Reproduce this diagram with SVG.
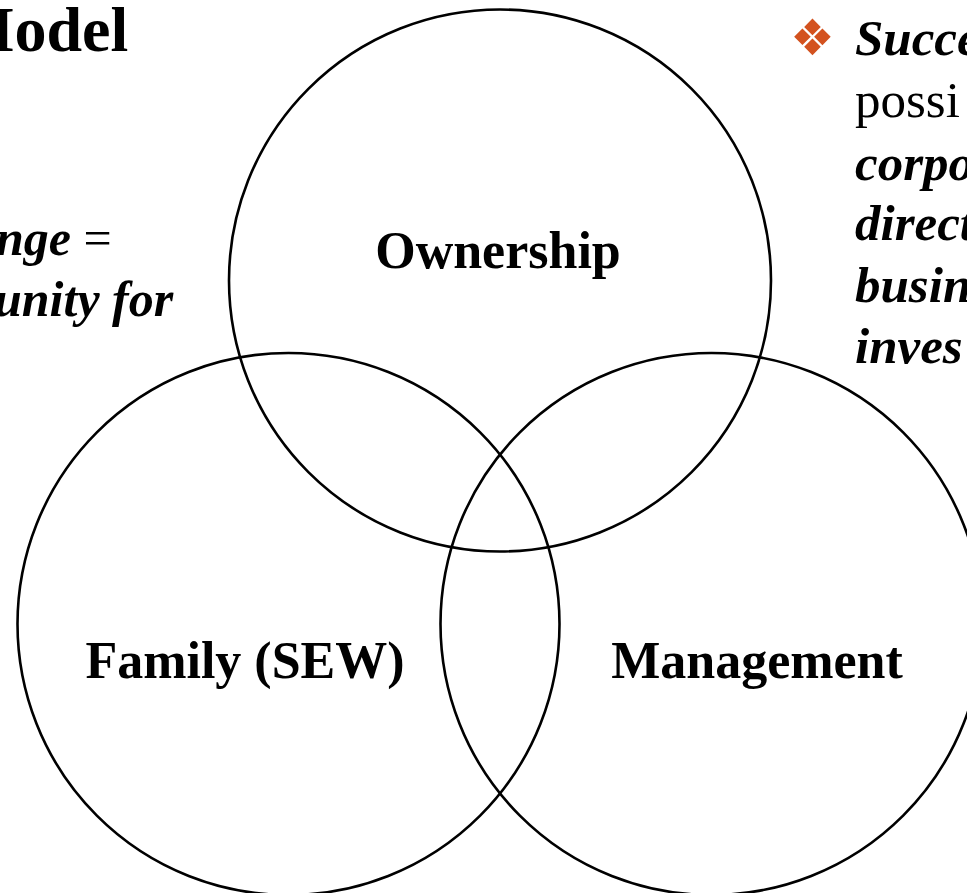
<svg xmlns="http://www.w3.org/2000/svg" width="967" height="893" viewBox="0 0 967 893">
  <style>
    .ring { fill: none; stroke: #000; stroke-width: 2.6; }
    .label { font-family: "Liberation Serif", "Times New Roman", serif; font-weight: bold; font-size: 52px; fill: #000; }
    .body { font-family: "Liberation Serif", "Times New Roman", serif; font-size: 50px; fill: #000; }
    .side { font-size: 51px; }
    .bi { font-weight: bold; font-style: italic; }
    .bullet { font-family: "DejaVu Sans", sans-serif; font-size: 50px; fill: #D3521F; }
  </style>
  <rect width="967" height="893" fill="#fff"/>

  <!-- slide heading, clipped at the left edge -->
  <text x="-46" y="51" font-family="Liberation Serif, serif" font-weight="bold" font-size="64">Model</text>

  <!-- left-hand text fragment -->
  <text class="body" x="-4" y="255"><tspan class="bi">nge</tspan> =</text>
  <text class="body bi" x="-6" y="316">unity for</text>

  <!-- right-hand bullet text fragment -->
  <text class="bullet" x="790" y="55">❖</text>
  <text class="body side bi" x="855" y="55">Succe</text>
  <text class="body side" x="855" y="117">possi</text>
  <text class="body side bi" x="855" y="180">corpo</text>
  <text class="body side bi" x="855" y="240">direct</text>
  <text class="body side bi" x="855" y="302">busin</text>
  <text class="body side bi" x="855" y="363">inves</text>

  <!-- three-circle model -->
  <g id="ownership">
    <circle class="ring" cx="500" cy="280.5" r="271"/>
    <text class="label" x="498" y="268" text-anchor="middle">Ownership</text>
  </g>
  <g id="family">
    <circle class="ring" cx="288.5" cy="624" r="271"/>
    <text class="label" x="245" y="678" text-anchor="middle">Family (SEW)</text>
  </g>
  <g id="management">
    <circle class="ring" cx="711.5" cy="624" r="271"/>
    <text class="label" x="757" y="678" text-anchor="middle">Management</text>
  </g>
  <g id="connectors"></g>
</svg>
